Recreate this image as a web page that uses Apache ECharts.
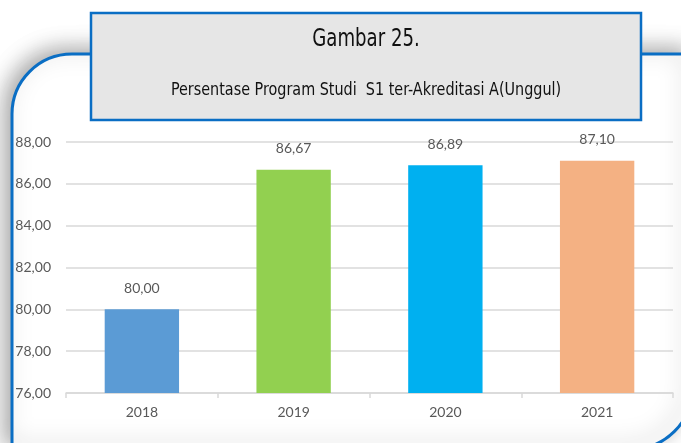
<!DOCTYPE html>
<html>
<head>
<meta charset="utf-8">
<script src="https://cdn.jsdelivr.net/npm/echarts@6/dist/echarts.min.js"></script>
<style>
  html, body { margin: 0; padding: 0; background: #fff; }
  #chart { width: 681px; height: 443px; }
</style>
</head>
<body>
<div id="chart"></div>
<script>
// data
var years = ['2018', '2019', '2020', '2021']
var persen = [80.00, 86.67, 86.89, 87.10]
var barColors = ['#5b9bd5', '#92d050', '#00b0f0', '#f4b183']
var yMin = 76, yMax = 88, yStep = 2

var judul = 'Gambar 25.'
var subJudul = 'Persentase Program Studi  S1 ter-Akreditasi A(Unggul)'

function koma(v) {
  return Number(v).toFixed(2).replace('.', ',')
}

(function(){
  var myChart = echarts.init(document.getElementById('chart'))
  var titleFont = '"Liberation Sans Narrow", "DejaVu Sans Condensed", sans-serif'
  var option = {
    backgroundColor: '#fff',
    animation: false,
    graphic: [
      {
        // bingkai: sudut kiri atas & kanan bawah membulat
        type: 'rect',
        z: -10,
        shape: { x: 12, y: 54, width: 680, height: 395, r: [60, 0, 60, 0] },
        style: {
          fill: '#fff',
          stroke: '#0a6ec4',
          lineWidth: 3,
          shadowBlur: 22,
          shadowOffsetX: -6,
          shadowOffsetY: -4,
          shadowColor: 'rgba(0,0,0,0.35)'
        }
      },
      {
        type: 'group',
        z: 100,
        children: [
          {
            type: 'rect',
            shape: { x: 91, y: 13, width: 550, height: 107 },
            style: { fill: '#e6e6e6', stroke: '#0a6ec4', lineWidth: 2.5 }
          },
          {
            type: 'text',
            x: 366, y: 40,
            scaleX: 0.84,
            style: {
              text: judul,
              fill: '#111',
              font: '24px ' + titleFont,
              align: 'center',
              verticalAlign: 'middle'
            }
          },
          {
            type: 'text',
            x: 366, y: 91,
            scaleX: 0.94,
            style: {
              text: subJudul,
              fill: '#111',
              font: '17px ' + titleFont,
              align: 'center',
              verticalAlign: 'middle'
            }
          }
        ]
      }
    ],
    grid: {
      left: 66,
      right: 8,
      top: 142,
      bottom: 50
    },
    xAxis: {
      type: 'category',
      data: years,
      axisLine: { lineStyle: { color: '#d9d9d9', width: 1.5 } },
      axisTick: { show: true, length: 5, lineStyle: { color: '#d9d9d9', width: 1.5 } },
      axisLabel: { color: '#595959', fontSize: 14, margin: 12, fontFamily: 'Lato, "Open Sans", sans-serif' }
    },
    yAxis: {
      type: 'value',
      min: yMin,
      max: yMax,
      interval: yStep,
      axisLine: { show: false },
      axisTick: { show: false },
      axisLabel: {
        color: '#595959',
        fontSize: 14,
        margin: 15,
        fontFamily: 'Lato, "Open Sans", sans-serif',
        formatter: koma
      },
      splitLine: { lineStyle: { color: '#d9d9d9', width: 1.5 } }
    },
    series: [{
      type: 'bar',
      data: persen,
      barWidth: '49%',
      itemStyle: {
        color: function(item) {
          return barColors[item.dataIndex]
        }
      },
      label: {
        show: true,
        position: 'top',
        distance: 14,
        color: '#595959',
        fontSize: 14,
        fontFamily: 'Lato, "Open Sans", sans-serif',
        formatter: function(p) { return koma(p.value) }
      }
    }]
  }
  myChart.setOption(option)
})();
</script>
</body>
</html>
